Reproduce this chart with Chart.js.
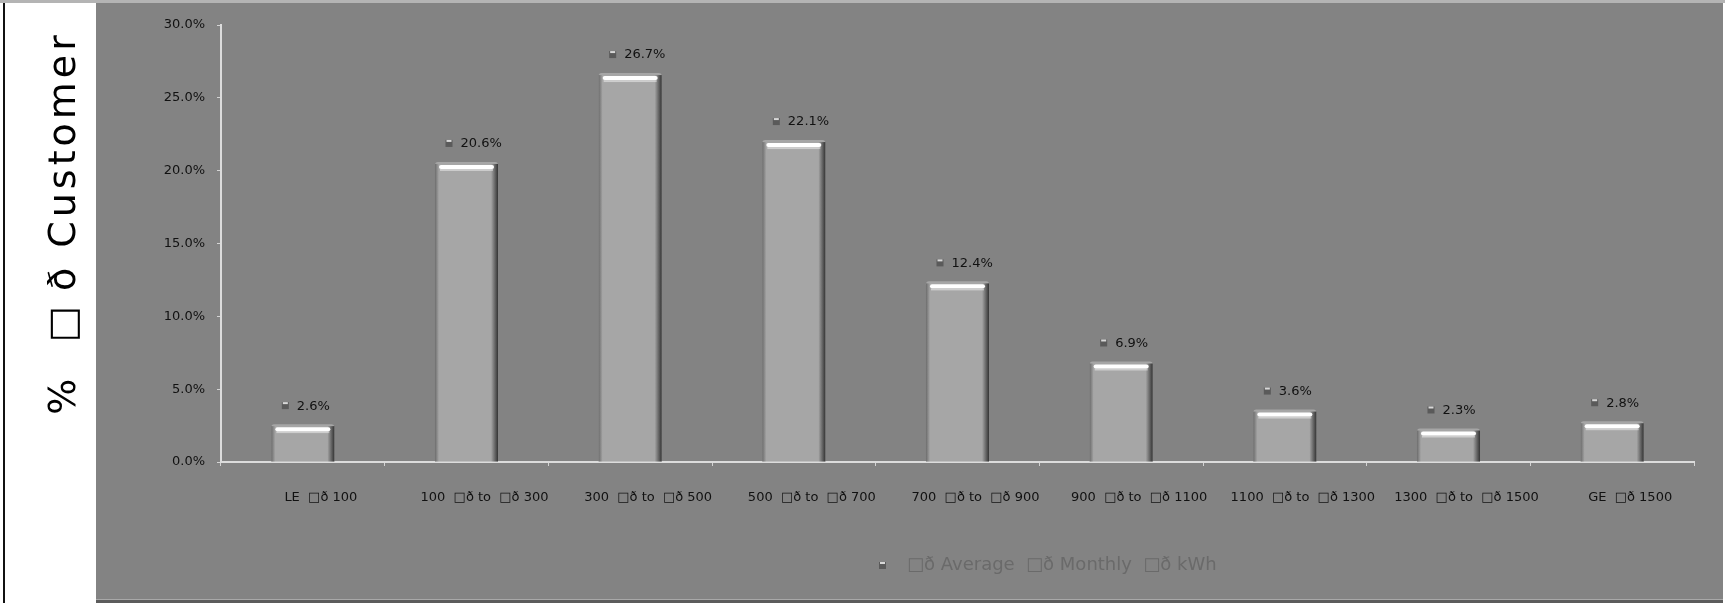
<!DOCTYPE html>
<html>
<head>
<meta charset="utf-8">
<script src="https://cdn.jsdelivr.net/npm/chart.js@4.4.1/dist/chart.umd.min.js"></script>
<style>
  html, body { margin: 0; padding: 0; background: #ffffff; }
  canvas { display: block; }
</style>
</head>
<body>
<canvas id="c" width="1725" height="603"></canvas>
<script>
// Usage bands (monthly kWh) and share of customers in each band (%)
const categories = [
  'LE  \u25A1\u00F0 100',
  '100  \u25A1\u00F0 to  \u25A1\u00F0 300',
  '300  \u25A1\u00F0 to  \u25A1\u00F0 500',
  '500  \u25A1\u00F0 to  \u25A1\u00F0 700',
  '700  \u25A1\u00F0 to  \u25A1\u00F0 900',
  '900  \u25A1\u00F0 to  \u25A1\u00F0 1100',
  '1100  \u25A1\u00F0 to  \u25A1\u00F0 1300',
  '1300  \u25A1\u00F0 to  \u25A1\u00F0 1500',
  'GE  \u25A1\u00F0 1500'
];
const customerShare = [2.6, 20.6, 26.7, 22.1, 12.4, 6.9, 3.6, 2.3, 2.8];
const yTicks = [0, 5, 10, 15, 20, 25, 30];
const yTitle = '%  \u25A1\u2009\u00F0 Customer';
const legendText = '\u25A1\u00F0 Average  \u25A1\u00F0 Monthly  \u25A1\u00F0 kWh';

const FONT = '"DejaVu Sans", Verdana, sans-serif';

// Frame: white title panel on the left, gray chart panel on the right
const framePlugin = {
  id: 'frame',
  beforeDraw(chart) {
    const ctx = chart.ctx;
    const W = chart.width, H = chart.height;
    ctx.save();
    ctx.fillStyle = '#ffffff';
    ctx.fillRect(0, 0, W, H);
    ctx.fillStyle = '#838383';
    ctx.fillRect(96, 3, W - 98, H - 5);
    ctx.fillStyle = '#b4b4b4';
    ctx.fillRect(0, 0, W, 3);
    ctx.fillStyle = '#a8a8a8';
    ctx.fillRect(96, H - 4, W - 98, 1);
    ctx.fillStyle = '#5c5c5c';
    ctx.fillRect(96, H - 3, W - 98, 3);
    ctx.fillStyle = '#111111';
    ctx.fillRect(3, 3, 2, H - 3);
    ctx.restore();
  },
  afterDraw(chart) {
    const ctx = chart.ctx;
    // vertical axis title
    ctx.save();
    ctx.translate(65, 223);
    ctx.rotate(-Math.PI / 2);
    ctx.font = '38px ' + FONT;
    if ('letterSpacing' in ctx) ctx.letterSpacing = '4px';
    ctx.fillStyle = '#000000';
    ctx.textAlign = 'center';
    ctx.textBaseline = 'middle';
    ctx.fillText(yTitle, 0, 0);
    ctx.restore();

    // legend line at the bottom
    ctx.save();
    ctx.font = '18px ' + FONT;
    ctx.textBaseline = 'middle';
    ctx.textAlign = 'left';
    drawKey(ctx, 882, 565);
    ctx.fillStyle = '#6a6a6a';
    ctx.fillText(legendText, 907, 565);
    ctx.restore();
  }
};

// small key glyph used beside value labels and in the legend
function drawKey(ctx, x, y) {
  ctx.save();
  ctx.fillStyle = '#5a5a5a';
  ctx.fillRect(x - 3, y - 3, 7, 7);
  ctx.fillStyle = '#d8d8d8';
  ctx.fillRect(x - 2, y - 3, 5, 2);
  ctx.restore();
}

// bar shading and value labels
const barStylePlugin = {
  id: 'barStyle',
  afterDatasetsDraw(chart) {
    const ctx = chart.ctx;
    const meta = chart.getDatasetMeta(0);
    meta.data.forEach((bar, i) => {
      const { x, y, width, base } = bar.getProps(['x', 'y', 'width', 'base'], true);
      const l = x - width / 2, r = x + width / 2;
      ctx.save();
      // dark right rim
      let g = ctx.createLinearGradient(r - 7, 0, r, 0);
      g.addColorStop(0, 'rgba(40,40,40,0)');
      g.addColorStop(1, 'rgba(40,40,40,0.9)');
      ctx.fillStyle = g;
      ctx.fillRect(r - 7, y + 2, 7, base - y - 2);
      // soft left rim
      g = ctx.createLinearGradient(l, 0, l + 4, 0);
      g.addColorStop(0, 'rgba(70,70,70,0.6)');
      g.addColorStop(1, 'rgba(70,70,70,0)');
      ctx.fillStyle = g;
      ctx.fillRect(l, y + 2, 4, base - y - 2);
      // white highlight band across the top
      ctx.fillStyle = '#ffffff';
      ctx.beginPath();
      ctx.roundRect(l + 4, y + 3, width - 8, 4, 2);
      ctx.fill();
      ctx.fillStyle = 'rgba(255,255,255,0.45)';
      ctx.fillRect(l + 5, y + 7, width - 10, 2);
      ctx.restore();

      // value label
      ctx.save();
      ctx.font = '13px ' + FONT;
      ctx.fillStyle = '#111111';
      ctx.textAlign = 'left';
      ctx.textBaseline = 'middle';
      drawKey(ctx, x - 18, y - 19);
      ctx.fillText(customerShare[i].toFixed(1) + '%', x - 6, y - 18);
      ctx.restore();
    });
  }
};

new Chart(document.getElementById('c'), {
  type: 'bar',
  data: {
    labels: categories,
    datasets: [{
      data: customerShare,
      backgroundColor: '#a6a6a6',
      borderWidth: 0,
      borderRadius: { topLeft: 3, topRight: 3 },
      borderSkipped: 'bottom',
      barPercentage: 0.385,
      categoryPercentage: 1.0
    }]
  },
  options: {
    responsive: false,
    animation: false,
    devicePixelRatio: 1,
    layout: { padding: { top: 25, right: 31, left: 0, bottom: 0 } },
    plugins: {
      legend: { display: false },
      tooltip: { enabled: false }
    },
    scales: {
      x: {
        offset: true,
        grid: {
          display: true,
          drawOnChartArea: false,
          drawTicks: true,
          tickLength: 4,
          tickColor: '#d4d4d4',
          offset: true
        },
        border: { display: true, color: '#dcdcdc', width: 2 },
        ticks: {
          font: { family: FONT, size: 13 },
          color: '#111111',
          maxRotation: 0,
          autoSkip: false,
          padding: 24,
          labelOffset: 18
        },
        afterFit(scale) { scale.height = 141; }
      },
      y: {
        min: 0,
        max: 30,
        afterBuildTicks(scale) { scale.ticks = yTicks.map(v => ({ value: v })); },
        grid: {
          display: true,
          drawOnChartArea: false,
          drawTicks: true,
          tickLength: 4,
          tickColor: '#d4d4d4'
        },
        border: { display: true, color: '#dcdcdc', width: 2 },
        ticks: {
          font: { family: FONT, size: 13 },
          color: '#111111',
          padding: 12,
          callback: v => v.toFixed(1) + '%'
        },
        afterFit(scale) { scale.width = 221; }
      }
    }
  },
  plugins: [framePlugin, barStylePlugin]
});
</script>
</body>
</html>
